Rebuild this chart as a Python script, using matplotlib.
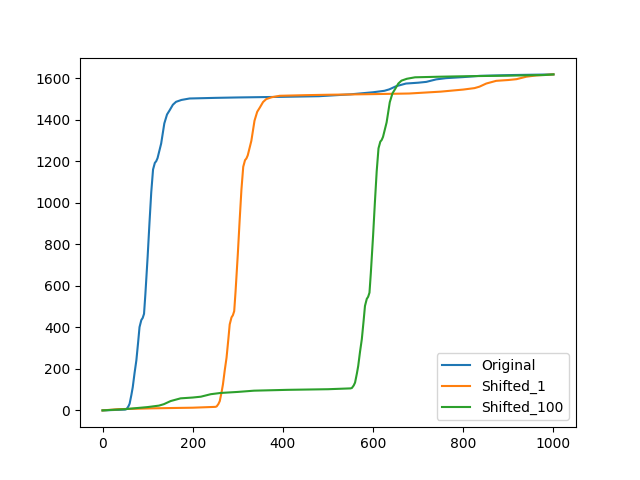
import matplotlib
matplotlib.use("Agg")
import matplotlib.pyplot as plt

orig_x = [0, 25, 50, 53, 57, 60, 64, 67, 71, 75, 79, 82, 86, 89, 92, 95, 100, 104, 108, 112, 116,
          119, 122, 126, 130, 137, 143, 149, 156, 163, 175, 193, 250, 300, 400, 480, 550, 600, 625,
          636, 651, 673, 700, 718, 740, 762, 800, 836, 910, 1000]
orig_y = [0, 2, 4, 6, 18, 32, 75, 112, 180, 241, 330, 401, 435, 445, 465, 560, 740, 900, 1050,
          1160, 1192, 1200, 1215, 1250, 1285, 1382, 1425, 1446, 1472, 1486, 1495, 1502, 1505, 1507,
          1510, 1513, 1522, 1532, 1539, 1546, 1561, 1574, 1578, 1582, 1594, 1600, 1605, 1611, 1615, 1618]

s1_x = [0, 36, 110, 200, 225, 250, 253, 257, 260, 264, 267, 271, 275, 279, 282, 286, 289, 292, 295,
        300, 304, 308, 312, 316, 319, 322, 326, 330, 337, 343, 349, 356, 363, 375, 393, 450,
        500, 600, 680, 750, 800, 825, 836, 851, 873, 900, 918, 940, 962, 1000]
s1_y = [0, 6, 10, 13, 15, 17, 19, 31, 45, 88, 125, 193, 254, 343, 414, 448, 458, 478, 573, 753,
        913, 1063, 1173, 1205, 1213, 1228, 1263, 1298, 1395, 1438, 1459, 1485, 1499, 1508, 1515,
        1518, 1520, 1523, 1526, 1535, 1545, 1552, 1559, 1574, 1587, 1591, 1595, 1607, 1613, 1618]

s100_x = [0, 50, 100, 125, 136, 151, 173, 200, 218, 240, 262, 300, 336, 410, 500, 525, 550, 553, 557,
          560, 564, 567, 571, 575, 579, 582, 586, 589, 592, 595, 600, 604, 608, 612, 616, 619,
          622, 626, 630, 637, 643, 649, 656, 663, 675, 693, 750, 800, 900, 980, 1000]
s100_y = [0, 6, 16, 23, 30, 45, 58, 62, 66, 78, 84, 89, 95, 99, 102, 104, 106, 108, 120, 134, 177,
          214, 282, 343, 432, 503, 537, 547, 567, 662, 842, 1002, 1152, 1262, 1294, 1302, 1317,
          1352, 1387, 1484, 1527, 1548, 1574, 1588, 1597, 1604, 1607, 1609, 1612, 1615, 1618]

fig, ax = plt.subplots(figsize=(6.4, 4.8), dpi=100)
ax.plot(orig_x, orig_y, label="Original")
ax.plot(s1_x, s1_y, label="Shifted_1")
ax.plot(s100_x, s100_y, label="Shifted_100")
ax.legend(loc="lower right")
fig.savefig("out.png")
